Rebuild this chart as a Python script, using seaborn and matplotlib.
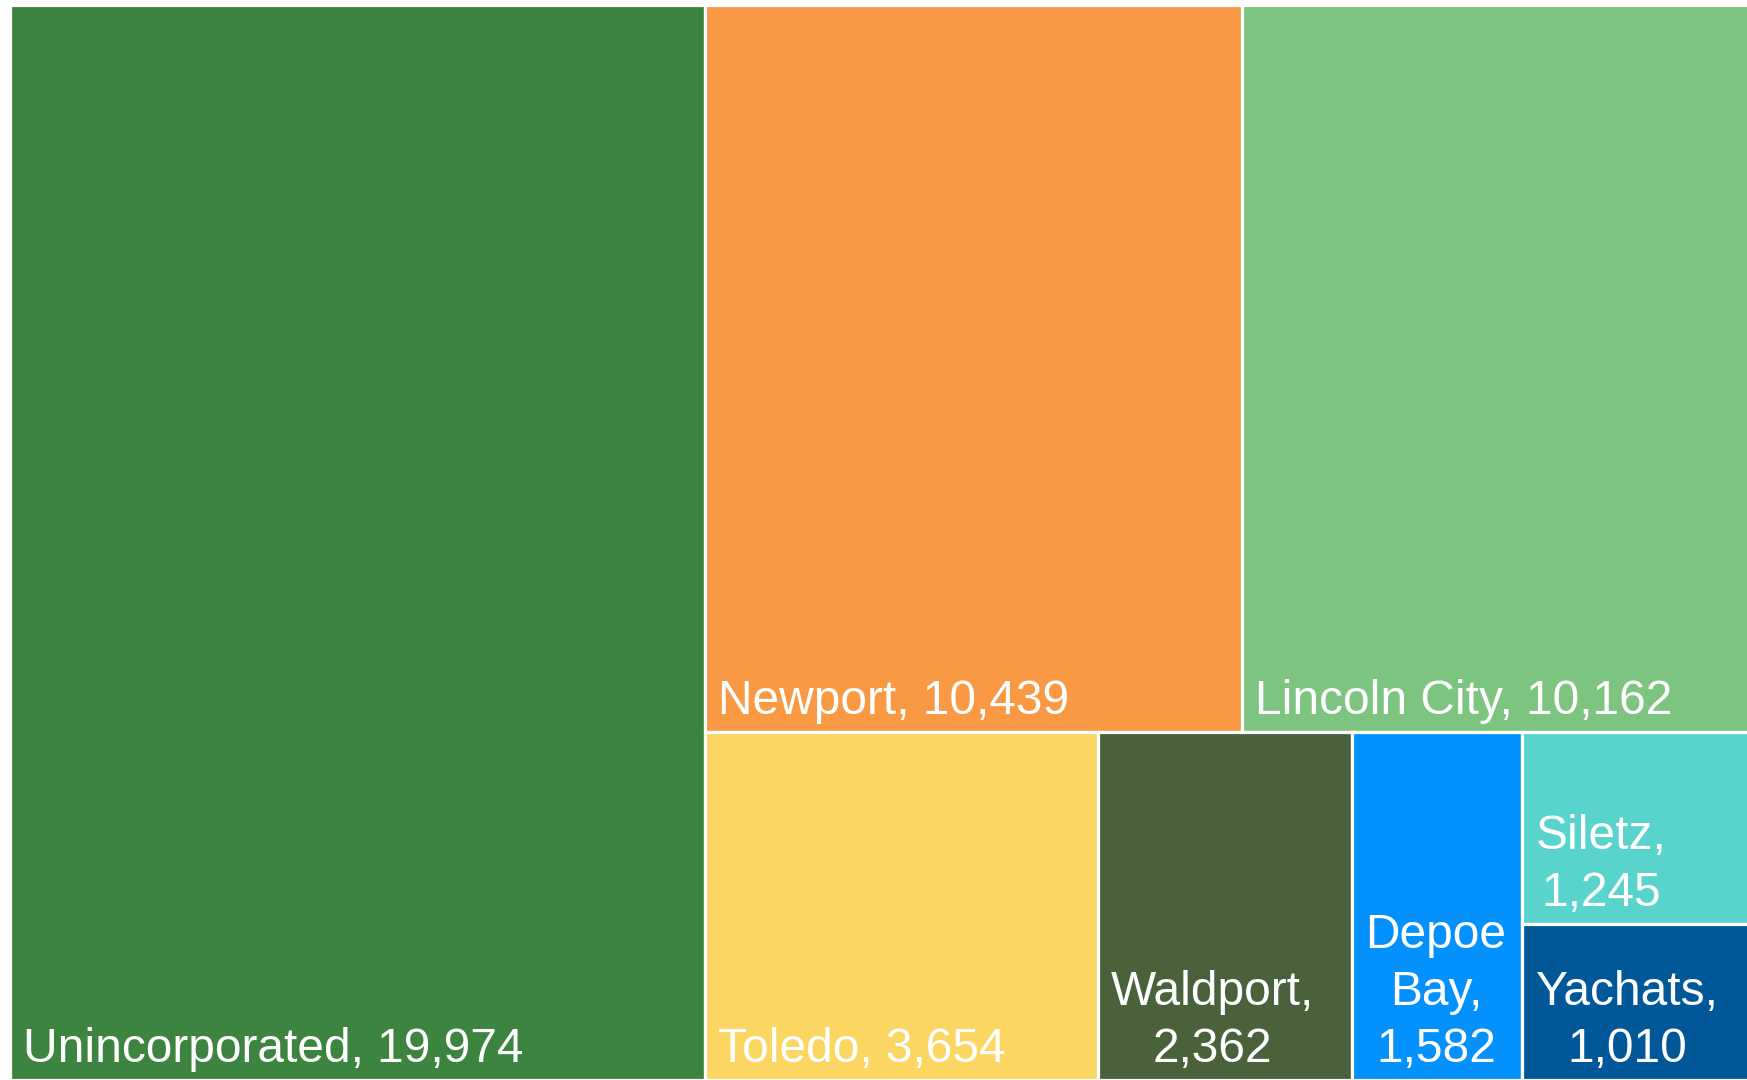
import matplotlib.pyplot as plt
import seaborn as sns
from matplotlib.patches import Rectangle

# population by place
places = ["Unincorporated", "Newport", "Lincoln City", "Toledo",
          "Waldport", "Depoe Bay", "Siletz", "Yachats"]
population = [19974, 10439, 10162, 3654, 2362, 1582, 1245, 1010]
tile_colors = ["#3C8440", "#F99943", "#7CC47F", "#FBD662",
               "#49623B", "#0392FD", "#58D4CC", "#015899"]
# number of tiles in each strip of the treemap (in order)
strip_sizes = [1, 2, 1, 1, 1, 1, 1]


def strip_layout(values, groups, x, y, w, h):
    # lay strips along the short side of the remaining space
    scale = w * h / sum(values)
    areas = [v * scale for v in values]
    rects = []
    i = 0
    for n in groups:
        row = areas[i:i + n]
        i += n
        s = sum(row)
        if w >= h:
            t = s / h
            yy = y
            for a in row:
                rects.append((x, yy, t, a / t))
                yy += a / t
            x += t
            w -= t
        else:
            t = s / w
            xx = x
            for a in row:
                rects.append((xx, y, a / t, t))
                xx += a / t
            y += t
            h -= t
    return rects


sns.set_theme(style="white")
plt.rcParams["font.family"] = ["Liberation Sans", "DejaVu Sans"]

# the treemap runs a little past the right edge of the image, as in the original
W, H = 1755, 1075
fig = plt.figure(figsize=(17.47, 10.80), dpi=100)
ax = fig.add_axes([10 / 1747, 0, W / 1747, H / 1080])
ax.set_xlim(0, W)
ax.set_ylim(H, 0)
ax.axis("off")

palette = sns.color_palette(tile_colors)
rects = strip_layout(population, strip_sizes, 0, 0, W, H)
renderer = fig.canvas.get_renderer()

pad_x, pad_y = 13, 8
for (x, y, w, h), name, val, col in zip(rects, places, population, palette):
    ax.add_patch(Rectangle((x, y), w, h, facecolor=col,
                           edgecolor="white", linewidth=2.3))
    txt = ax.text(x + pad_x, y + h - pad_y, "", color="white", fontsize=34.5,
                  ha="left", va="bottom", multialignment="center",
                  linespacing=1.35)
    # greedy wrap to the tile width
    words = f"{name}, {val:,}".split(" ")
    lines = [words[0]]
    for word in words[1:]:
        txt.set_text(lines[-1] + " " + word)
        if txt.get_window_extent(renderer).width <= w - 2 * pad_x:
            lines[-1] = lines[-1] + " " + word
        else:
            lines.append(word)
    txt.set_text("\n".join(lines))

fig.savefig("out.png", dpi=100)
